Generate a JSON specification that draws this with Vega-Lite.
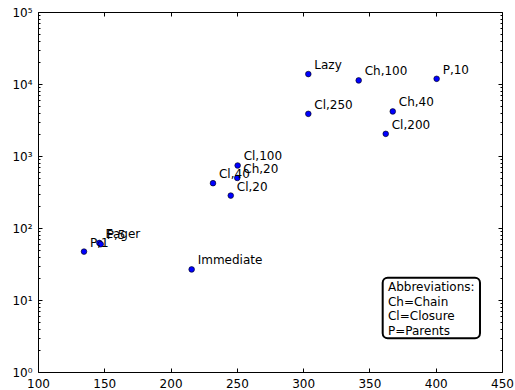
{
  "$schema": "https://vega.github.io/schema/vega-lite/v6.json",
  "width": 464,
  "height": 360,
  "autosize": "none",
  "padding": {"left": 38, "top": 12, "right": 13, "bottom": 18},
  "config": {
    "view": {"stroke": "black", "strokeWidth": 1},
    "font": "DejaVu Sans",
    "axis": {
      "domain": false,
      "grid": false,
      "labelFont": "DejaVu Sans",
      "labelFontSize": 12,
      "labelColor": "black",
      "tickColor": "black",
      "tickWidth": 1,
      "labelOverlap": false,
      "labelFlush": false,
      "title": null
    }
  },
  "datasets": {
    "pts": [
      {"name": "P,1", "x": 134.7, "y": 47},
      {"name": "Eager", "x": 146.3, "y": 62},
      {"name": "P,5", "x": 147.3, "y": 59.5},
      {"name": "Immediate", "x": 215.9, "y": 26.6},
      {"name": "Cl,40", "x": 232, "y": 419},
      {"name": "Cl,20", "x": 245.4, "y": 282},
      {"name": "Ch,20", "x": 250.3, "y": 496},
      {"name": "Cl,100", "x": 250.6, "y": 738},
      {"name": "Lazy", "x": 303.9, "y": 13740},
      {"name": "Cl,250", "x": 303.9, "y": 3850},
      {"name": "Ch,100", "x": 341.9, "y": 11220},
      {"name": "Cl,200", "x": 362.3, "y": 2030},
      {"name": "Ch,40", "x": 367.6, "y": 4160},
      {"name": "P,10", "x": 400.7, "y": 11810}
    ],
    "box": [{"x1": 360, "x2": 433.4, "y1": 2.95, "y2": 20.4}],
    "note": [{"x": 364, "y": 17.6, "t": "Abbreviations:\nCh=Chain\nCl=Closure\nP=Parents"}]
  },
  "layer": [
    {
      "layer": [
        {
          "data": {"name": "pts"},
          "mark": {"type": "point", "filled": true, "color": "#0000ff", "stroke": "black", "strokeWidth": 0.6, "size": 32, "opacity": 1},
          "encoding": {
            "x": {
              "field": "x", "type": "quantitative",
              "scale": {"domain": [100, 450], "nice": false, "zero": false},
              "axis": {"orient": "bottom", "values": [100, 150, 200, 250, 300, 350, 400, 450], "tickSize": -4, "labelPadding": 10}
            },
            "y": {
              "field": "y", "type": "quantitative",
              "scale": {"type": "log", "domain": [1, 100000], "nice": false},
              "axis": {
                "orient": "left",
                "values": [1,2,3,4,5,6,7,8,9,10,20,30,40,50,60,70,80,90,100,200,300,400,500,600,700,800,900,1000,2000,3000,4000,5000,6000,7000,8000,9000,10000,20000,30000,40000,50000,60000,70000,80000,90000,100000],
                "labelExpr": "indexof([1,10,100,1000,10000,100000], datum.value) >= 0 ? '10' + ['⁰','¹','²','³','⁴','⁵'][round(log(datum.value)/LN10)] : ''",
                "tickSize": {"condition": {"test": "indexof([1,10,100,1000,10000,100000], datum.value) >= 0", "value": -4}, "value": -2},
                "labelPadding": 10
              }
            }
          }
        },
        {
          "data": {"name": "pts"},
          "mark": {"type": "text", "align": "left", "baseline": "alphabetic", "dx": 6, "dy": -5, "fontSize": 12, "font": "DejaVu Sans", "color": "black"},
          "encoding": {
            "x": {"field": "x", "type": "quantitative"},
            "y": {"field": "y", "type": "quantitative"},
            "text": {"field": "name"}
          }
        },
        {
          "data": {"name": "box"},
          "mark": {"type": "rect", "fill": "white", "stroke": "black", "strokeWidth": 2, "cornerRadius": 5},
          "encoding": {
            "x": {"field": "x1", "type": "quantitative"},
            "x2": {"field": "x2"},
            "y": {"field": "y1", "type": "quantitative"},
            "y2": {"field": "y2"}
          }
        },
        {
          "data": {"name": "note"},
          "mark": {"type": "text", "align": "left", "baseline": "top", "lineBreak": "\n", "lineHeight": 14.5, "fontSize": 12, "font": "DejaVu Sans", "color": "black"},
          "encoding": {
            "x": {"field": "x", "type": "quantitative"},
            "y": {"field": "y", "type": "quantitative"},
            "text": {"field": "t"}
          }
        }
      ]
    },
    {
      "data": {"name": "pts"},
      "mark": {"type": "point", "opacity": 0},
      "encoding": {
        "x": {
          "field": "x", "type": "quantitative",
          "scale": {"domain": [100, 450], "nice": false, "zero": false},
          "axis": {"orient": "top", "values": [100, 150, 200, 250, 300, 350, 400, 450], "tickSize": -4, "labels": false}
        },
        "y": {
          "field": "y", "type": "quantitative",
          "scale": {"type": "log", "domain": [1, 100000], "nice": false},
          "axis": {
            "orient": "right",
            "values": [1,2,3,4,5,6,7,8,9,10,20,30,40,50,60,70,80,90,100,200,300,400,500,600,700,800,900,1000,2000,3000,4000,5000,6000,7000,8000,9000,10000,20000,30000,40000,50000,60000,70000,80000,90000,100000],
            "tickSize": {"condition": {"test": "indexof([1,10,100,1000,10000,100000], datum.value) >= 0", "value": -4}, "value": -2},
            "labels": false
          }
        }
      }
    }
  ],
  "resolve": {"axis": {"x": "independent", "y": "independent"}}
}
